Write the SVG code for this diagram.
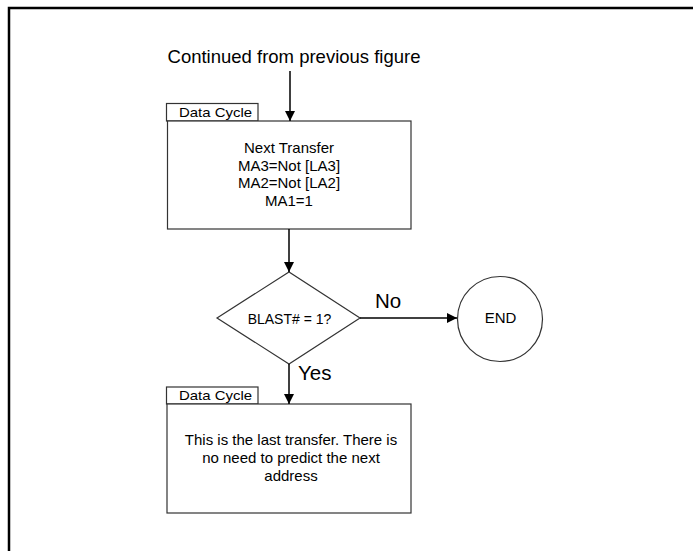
<svg xmlns="http://www.w3.org/2000/svg" width="693" height="551" viewBox="0 0 693 551">
<style>
  text { font-family: "Liberation Sans", Arial, sans-serif; fill: #000; }
  .box { fill: #fff; stroke: #333; stroke-width: 1.2; }
  .edge { fill: none; stroke: #000; stroke-width: 1.5; }
  .body { font-size: 15px; text-anchor: middle; }
  .tab { font-size: 13.5px; }
  .lbl { font-size: 20.5px; }
</style>
<defs>
  <marker id="arr" viewBox="0 0 10 10" refX="10" refY="5" markerWidth="10" markerHeight="10" markerUnits="userSpaceOnUse" orient="auto">
    <path d="M0,0 L10,5 L0,10 z" fill="#000"/>
  </marker>
</defs>
<rect x="0" y="0" width="693" height="551" fill="#fff"/>
<path d="M9,551 V8 H693" fill="none" stroke="#000" stroke-width="2.5"/>

<g id="start-label">
  <text x="294" y="63" font-size="18.5" text-anchor="middle">Continued from previous figure</text>
</g>

<g id="box1">
  <rect class="box" x="166.5" y="103.5" width="91.5" height="17.5"/>
  <text class="tab" x="179" y="117" textLength="73" lengthAdjust="spacingAndGlyphs">Data Cycle</text>
  <rect class="box" x="167.5" y="121" width="243.5" height="108"/>
  <text class="body" x="289" y="153">Next Transfer</text>
  <text class="body" x="289" y="170.5">MA3=Not [LA3]</text>
  <text class="body" x="289" y="188">MA2=Not [LA2]</text>
  <text class="body" x="289" y="205.5">MA1=1</text>
</g>

<g id="decision">
  <polygon class="box" points="217,318 289,272 360,318 289,364"/>
  <text x="289.5" y="324" font-size="14" text-anchor="middle">BLAST# = 1?</text>
</g>

<g id="end">
  <circle class="box" cx="500" cy="319" r="42.5"/>
  <text x="500.5" y="322.5" font-size="15" text-anchor="middle">END</text>
</g>

<g id="box2">
  <rect class="box" x="166.5" y="387" width="91.5" height="17"/>
  <text class="tab" x="179" y="399.5" textLength="73" lengthAdjust="spacingAndGlyphs">Data Cycle</text>
  <rect class="box" x="167" y="404" width="244" height="109"/>
  <text class="body" x="291" y="445">This is the last transfer. There is</text>
  <text class="body" x="291" y="462.7">no need to predict the next</text>
  <text class="body" x="291" y="480.5">address</text>
</g>

<g id="connectors">
  <line class="edge" x1="290" y1="71" x2="290" y2="121" marker-end="url(#arr)"/>
  <line class="edge" x1="289" y1="229" x2="289" y2="272" marker-end="url(#arr)"/>
  <line class="edge" x1="360" y1="318" x2="457" y2="318" marker-end="url(#arr)"/>
  <text class="lbl" x="375" y="308">No</text>
  <line class="edge" x1="289" y1="364" x2="289" y2="404" marker-end="url(#arr)"/>
  <text class="lbl" x="298" y="380">Yes</text>
</g>
</svg>
